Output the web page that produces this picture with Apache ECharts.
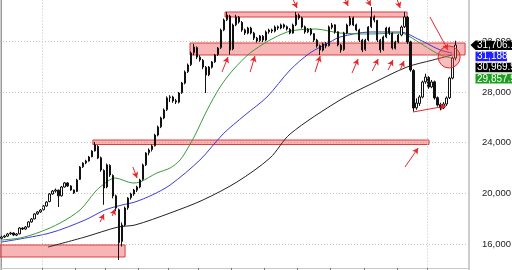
<!DOCTYPE html>
<html><head><meta charset="utf-8">
<script src="https://cdn.jsdelivr.net/npm/echarts@6/dist/echarts.min.js"></script>
<style>html,body{margin:0;padding:0;background:#fff}#c{width:512px;height:270px}</style>
</head><body><div id="c"></div>
<script>
// OHLC bars: [open, close, low, high]
const bars = [
[16450,16550,16380,16650],[16550,16630,16480,16720],[16620,16790,16560,16870],[16800,16870,16720,16960],[16870,16710,16640,16920],
[16700,16790,16620,16860],[16800,17260,16760,17330],[17260,17180,17100,17320],[17180,17340,17120,17420],[17350,17740,17300,17800],
[17740,17970,17680,18050],[17980,18370,17950,18420],[18380,18530,18300,18600],[18530,18680,18460,18760],[18700,19000,18650,19080],
[19000,19310,18950,19380],[19350,19950,19300,20020],[19950,20180,19880,20260],[20180,20260,20050,20380],[20250,19800,18920,20300],
[19800,20500,19750,20580],[20500,20820,20450,20900],[20820,20580,20500,20880],[20580,20260,20200,20640],[20260,20030,19950,20300],
[20150,21050,20100,21150],[21100,22080,21050,22150],[22100,22390,22000,22450],[22400,22550,22300,22650],[22550,22870,22500,22950],
[22880,23340,22850,23400],[23350,23820,23300,24050],[23700,22790,22700,23800],[22800,21840,21700,22900],[21800,20420,19100,21900],
[20500,22240,20400,22350],[22200,21450,21300,22300],[21400,19790,19600,21500],[19800,18840,18600,19900],[18700,16100,14740,18800],
[16200,17500,15800,17700],[17500,18840,17400,18950],[18850,19630,18700,19700],[19650,19950,19500,20050],[19950,20260,19800,20350],
[20250,20500,20100,20600],[20500,21050,20400,21150],[21100,22240,21000,22350],[22250,23180,22150,23250],[23200,23420,23000,23550],
[23450,23740,23300,23850],[23750,24600,23700,24700],[24600,25240,24500,25350],[25250,25950,25150,26050],[25950,26580,25850,26700],
[26600,27530,26500,27650],[27550,27610,27200,27750],[27600,27290,27150,27700],[27300,27210,27050,27450],[27200,27920,27100,28000],
[27950,28710,27850,28800],[28700,29580,28600,29700],[29600,30130,29500,30250],[30150,31080,30050,31200],[31100,31550,30900,31800],
[31500,30760,30600,31600],[30750,30530,30400,30900],[30500,29970,29800,30600],[29950,29340,27920,30050],[29350,29970,29250,30050],
[29950,30370,29850,30450],[30380,30920,30300,31000],[30950,31470,30850,31550],[31500,32890,31400,33000],[32900,33680,32800,33800],
[33700,34080,33600,34320],[34000,31320,30950,34100],[31400,33290,31300,33400],[33300,33920,33200,34100],[33900,33530,33400,34000],
[33500,32890,32750,33600],[32900,32660,32500,33000],[32650,33050,32550,33150],[33050,32660,32550,33150],[32650,32260,32100,32750],
[32250,32030,31900,32350],[32050,32420,31950,32500],[32400,32100,31950,32500],[32100,32740,32000,32850],[32750,32890,32600,33000],
[32900,32810,32650,33000],[32800,33130,32700,33250],[33150,33050,32900,33250],[33050,33290,32950,33400],[33300,33130,33000,33400],
[33150,32970,32850,33250],[32950,32660,32550,33050],[32650,33290,32600,33400],[33300,34080,33200,34320],[34050,33840,33700,34200],
[33850,33130,33000,33950],[33150,32740,32600,33250],[32750,32970,32650,33050],[32950,32580,32450,33050],[32600,32100,31950,32650],
[32100,31630,31500,32200],[31650,31320,30920,31750],[31300,31790,31200,31900],[31800,31630,31450,31950],[31650,33130,31600,33250],
[33100,33290,32950,33450],[33300,32740,32600,33350],[32750,31710,31600,32800],[31700,31320,31100,31800],[31350,32660,31250,32750],
[32650,33290,32550,33400],[33300,33840,33200,34000],[33850,33290,33200,33950],[33300,32890,32800,33400],[32900,32100,31950,33000],
[32100,31320,31150,32200],[31350,32100,31250,32200],[32100,33130,32000,33200],[33150,33920,33050,34710],[33900,33680,33500,34050],
[33650,32100,31950,33700],[32100,31320,31100,32200],[31350,32340,31250,32450],[32350,33050,32250,33150],[33050,32660,32500,33150],
[32650,31470,31350,32700],[31450,31950,31350,32050],[31950,32500,31850,32600],[32500,33130,32400,33250],[33150,33920,33050,34320],
[33900,31950,31800,34000],[31950,29740,29600,32050],[29700,26740,26450,29800],[26750,27130,26600,27500],[27100,27610,26900,27750],
[27600,28790,27500,28900],[28800,29180,28650,29450],[29150,28390,28250,29250],[28400,28790,28300,28950],[28800,27530,27400,28900],
[27550,26970,26850,27650],[27000,26740,26550,27150],[26750,27050,26650,27200],[27050,27530,26900,27650],[27550,29100,27450,29200],
[29100,30680,29000,30800],[30680,31706,30500,32050]
];
const slotCount = 156;
// moving averages: [bar index, value]
const maGreen = [[0,16315],[6.2,16473],[12.8,16947],[19.5,17657],[26.1,18684],[31.1,20105],[32.8,20500],[37.8,21210],[43.7,20815],[46.1,20894],[51.7,21605],[56.1,22000],[59.4,22631],[62,23578],[64.4,24605],[68.4,26579],[72.7,28394],[77,29737],[82.7,31079],[89.3,32105],[95,32737],[98.3,32895],[104.3,32973],[112.6,32658],[122.6,32579],[132.6,32658],[134.2,32579],[139.2,31868],[145.9,30921],[149.9,30684]];
const maBlue = [[0,16157],[16.1,16868],[27.8,17894],[34.4,18684],[40.1,19078],[44.4,19315],[50.1,19868],[56.1,20658],[66,22631],[73.7,24684],[81,26184],[88.3,27605],[96,29737],[102.6,31079],[109.3,31947],[112.6,32342],[122.6,32737],[132.6,32737],[139.2,32105],[145.9,31316],[149.9,31079]];
const maBlack = [[15.5,15762],[27.8,16552],[38.8,17342],[44.4,17499],[56.1,18447],[67,19473],[78.3,20894],[89.3,22789],[96,24684],[112.6,27368],[123.6,28710],[134.9,29973],[143.5,30526],[149.9,30921]];
// highlighted zones: [fromIndex, toIndex, top, bottom]
const zones = [[-0.5,41.1,15920,14973],[30.4,142.2,24210,23855],[62.7,154.2,31868,30921],[74.35,134.9,34316,33921]];
// arrows: [fromIndex, fromValue, toIndex, toValue]
const arrows = [
[73.35,29579,75.35,30763],[82.7,29579,84.3,30842],[104.3,29579,106,30842],
[97,35300,98.3,34631],[114.3,35300,115.3,34789],[121.6,35300,122.9,34789],[131.6,35300,132.6,34631],
[116.6,29500,118.6,30605],[123.3,29658,125.3,30605],[128.6,29737,130.2,30526],[132.6,29737,133.9,30447],
[142.5,33921,148.5,31316],[136.9,26421,147.9,26894],
[32.8,17736,34.1,18368],[36.8,18210,37.8,18763],[43.7,22078,45.1,21210],[134.2,22078,138.6,23579]
];
const circleAt = [148.9,30763];
const xTicks = [14,25,35,46,56,66,77,88,99,110,121,132,142];
const xGrid = [14,142];
const tags = [
  {text:'31,706.1', bg:'#000000'},
  {text:'31,188', bg:'#1f1fff'},
  {text:'30,969.9', bg:'#000000'},
  {text:'29,857.9', bg:'#1e9e1e'}
];

const chart = echarts.init(document.getElementById('c'), null, {renderer:'canvas'});
const FONT = '"Liberation Sans", Arial, sans-serif';
const candleData = bars.map((b,i)=>[i,b[0],b[1],b[2],b[3]]);
const red = '#e8262a';

const tagGraphics = [];
tags.forEach((t,k)=>{
  const y = 40.5 + k*11.1;
  if (k===0) {
    tagGraphics.push({type:'polygon', shape:{points:[[470.5,y+4.6],[475.5,y],[520,y],[520,y+9.4],[475.5,y+9.4]]}, style:{fill:t.bg}, z:100});
  } else {
    tagGraphics.push({type:'rect', shape:{x:475.5,y:y,width:(t.text.length<7?31.5:44),height:9.6}, style:{fill:t.bg}, z:100});
  }
  tagGraphics.push({type:'text', x:477, y:y+5, style:{text:t.text, fill:'#fff', font:'10px '+FONT, verticalAlign:'middle'}, z:101});
});

chart.setOption({
  animation:false,
  backgroundColor:'#fff',
  grid:{left:0, right:43, top:-9.33, bottom:-24.65, outerBoundsMode:'none', containLabel:false, show:true, borderColor:'#9a9a9a', borderWidth:1, backgroundColor:'transparent'},
  xAxis:{type:'value', min:-0.5, max:slotCount-0.5, offset:-26.65,
    axisLine:{show:true, lineStyle:{color:'#c8c8c8'}},
    axisTick:{show:true, customValues:xTicks.map(k=>k-0.5), length:4, lineStyle:{color:'#777'}},
    axisLabel:{show:false}, splitLine:{show:false}},
  yAxis:{type:'value', position:'right', min:12000, max:36000, interval:4000,
    axisLine:{show:true, lineStyle:{color:'#9a9a9a'}},
    axisTick:{show:false},
    axisLabel:{margin:13, color:'#222', fontSize:9.5, fontFamily:FONT},
    splitLine:{show:true, lineStyle:{color:'#c4c4c4', type:[1,2], width:1}}},
  graphic: tagGraphics,
  series:[
    {type:'line', data:[], markLine:{silent:true, symbol:['none','none'], label:{show:false},
      lineStyle:{color:'#c4c4c4', type:[1,2], width:1}, data:xGrid.map(k=>({xAxis:k-0.5}))}},
    {type:'line', data:maBlack, smooth:0.3, showSymbol:false, lineStyle:{color:'#222', width:1}, z:3},
    {type:'line', data:maBlue, smooth:0.3, showSymbol:false, lineStyle:{color:'#3b3bd6', width:1}, z:3},
    {type:'line', data:maGreen, smooth:0.3, showSymbol:false, lineStyle:{color:'#3a9a3a', width:1}, z:3},
    {type:'candlestick', data:candleData, encode:{x:0, y:[1,2,3,4]}, barWidth:1.8, z:4,
      itemStyle:{color:'#ffffff', color0:'#111111', borderColor:'#111111', borderColor0:'#111111', borderWidth:1}},
    {type:'line', data:[], z:6,
      markArea:{silent:true, itemStyle:{color:'rgba(238,90,90,0.45)', borderColor:'#e03c3c', borderWidth:1},
        data:zones.map(z=>[{coord:[z[0],z[2]]},{coord:[z[1],z[3]]}])},
      markLine:{silent:true, symbol:['none','arrow'], symbolSize:[5,6], label:{show:false},
        lineStyle:{color:red, width:1, type:'solid'},
        data:arrows.map(a=>[{coord:[a[0],a[1]]},{coord:[a[2],a[3]]}])},
      markPoint:{silent:true, symbol:'circle', symbolSize:22, label:{show:false},
        itemStyle:{color:'rgba(238,90,90,0.4)', borderColor:red, borderWidth:1},
        data:[{coord:circleAt}]}
    }
  ]
});
</script></body></html>
